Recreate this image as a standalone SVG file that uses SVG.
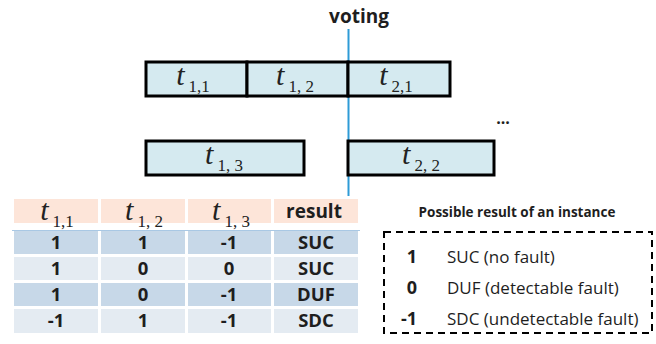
<svg xmlns="http://www.w3.org/2000/svg" width="656" height="344" viewBox="0 0 656 344">
<style>
.task{fill:#D5EAF0;stroke:#000;stroke-width:3}
.tt{font-family:"Liberation Serif",serif;font-size:30px;fill:#222}
.tt .t{font-style:italic}
.tt .s{font-size:17px}
.bold{font-family:"Open Sans","Liberation Sans",sans-serif;font-weight:bold;fill:#1e1e1e}
.reg{font-family:"Open Sans","Liberation Sans",sans-serif;fill:#1e1e1e}
.hd{fill:#FDE5D9}
.dk{fill:#C7D8E8}
.lt{fill:#E4EBF2}
</style>
<rect width="656" height="344" fill="#fff"/>
<g id="connectors">
<line x1="348.5" y1="29" x2="348.5" y2="196" stroke="#2E9BD6" stroke-width="2"/>
</g>
<text id="voting" x="359" y="23" text-anchor="middle" class="bold" font-size="19">voting</text>
<g id="t11"><rect class="task" x="146" y="62" width="101" height="34"/>
<text class="tt" x="193" y="85" text-anchor="middle"><tspan class="t">t</tspan><tspan class="s" dx="4" dy="7">1,1</tspan></text></g>
<g id="t12"><rect class="task" x="247" y="62" width="101" height="34"/>
<text class="tt" x="295" y="85" text-anchor="middle"><tspan class="t">t</tspan><tspan class="s" dx="4" dy="7">1, 2</tspan></text></g>
<g id="t21"><rect class="task" x="348" y="62" width="102" height="34"/>
<text class="tt" x="396" y="85" text-anchor="middle"><tspan class="t">t</tspan><tspan class="s" dx="4" dy="7">2,1</tspan></text></g>
<g id="t13"><rect class="task" x="146" y="141" width="158" height="34"/>
<text class="tt" x="224" y="164" text-anchor="middle"><tspan class="t">t</tspan><tspan class="s" dx="4" dy="7">1, 3</tspan></text></g>
<g id="t22"><rect class="task" x="348" y="141" width="146" height="34"/>
<text class="tt" x="421" y="164" text-anchor="middle"><tspan class="t">t</tspan><tspan class="s" dx="4" dy="7">2, 2</tspan></text></g>
<text id="ellipsis" x="503" y="124" text-anchor="middle" class="bold" font-size="16">...</text>
<g id="table">
<rect class="hd" x="14" y="199" width="84" height="24"/>
<rect class="hd" x="101" y="199" width="84" height="24"/>
<rect class="hd" x="188" y="199" width="83" height="24"/>
<rect class="hd" x="274" y="199" width="84" height="24"/>
<g class="dk"><rect x="14" y="231" width="84" height="23"/><rect x="101" y="231" width="84" height="23"/><rect x="188" y="231" width="83" height="23"/><rect x="274" y="231" width="84" height="23"/></g>
<g class="lt"><rect x="14" y="257" width="84" height="23"/><rect x="101" y="257" width="84" height="23"/><rect x="188" y="257" width="83" height="23"/><rect x="274" y="257" width="84" height="23"/></g>
<g class="dk"><rect x="14" y="283" width="84" height="23"/><rect x="101" y="283" width="84" height="23"/><rect x="188" y="283" width="83" height="23"/><rect x="274" y="283" width="84" height="23"/></g>
<g class="lt"><rect x="14" y="309" width="84" height="24"/><rect x="101" y="309" width="84" height="24"/><rect x="188" y="309" width="83" height="24"/><rect x="274" y="309" width="84" height="24"/></g>
<line x1="12" y1="230.5" x2="360" y2="230.5" stroke="#A9C8E4" stroke-width="1"/>
<text class="tt" x="57" y="220" text-anchor="middle"><tspan class="t">t</tspan><tspan class="s" dx="4" dy="7">1,1</tspan></text>
<text class="tt" x="144" y="220" text-anchor="middle"><tspan class="t">t</tspan><tspan class="s" dx="4" dy="7">1, 2</tspan></text>
<text class="tt" x="231" y="220" text-anchor="middle"><tspan class="t">t</tspan><tspan class="s" dx="4" dy="7">1, 3</tspan></text>
<text class="bold" x="314" y="218" text-anchor="middle" font-size="19">result</text>
<g class="bold" font-size="18.5" text-anchor="middle">
<text x="56" y="249">1</text><text x="143" y="249">1</text><text x="229" y="249">-1</text><text x="316" y="249">SUC</text>
<text x="56" y="275">1</text><text x="143" y="275">0</text><text x="229" y="275">0</text><text x="316" y="275">SUC</text>
<text x="56" y="301">1</text><text x="143" y="301">0</text><text x="229" y="301">-1</text><text x="316" y="301">DUF</text>
<text x="56" y="327">-1</text><text x="143" y="327">1</text><text x="229" y="327">-1</text><text x="316" y="327">SDC</text>
</g>
</g>
<g id="legend">
<text class="bold" x="517" y="217" text-anchor="middle" font-size="13.5">Possible result of an instance</text>
<rect x="384" y="232" width="268" height="101" fill="none" stroke="#000" stroke-width="2" stroke-dasharray="7,5"/>
<g class="bold" font-size="18" text-anchor="middle"><text x="412" y="263">1</text><text x="412" y="294">0</text><text x="409" y="325">-1</text></g>
<g class="reg" font-size="17"><text x="447" y="263">SUC (no fault)</text><text x="447" y="294">DUF (detectable fault)</text><text x="447" y="325">SDC (undetectable fault)</text></g>
</g>
</svg>
